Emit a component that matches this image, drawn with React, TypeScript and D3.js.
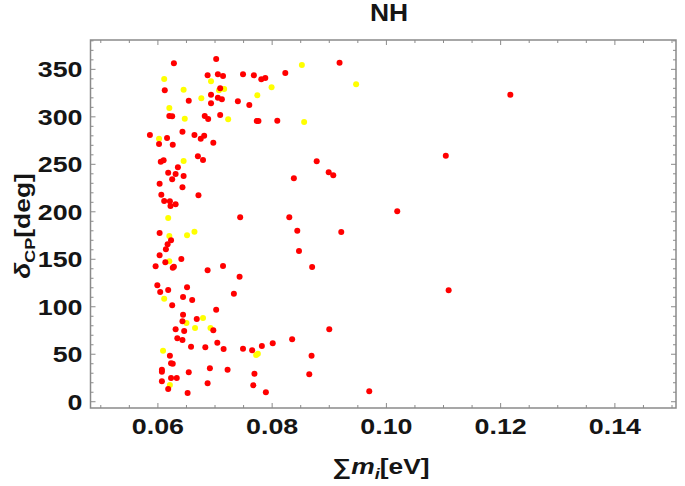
import React from "react";
import * as d3 from "d3";

const redX = [0.0628,0.0702,0.0687,0.0705,0.0714,0.0749,0.0768,0.0781,0.0788,0.0823,0.0612,0.0709,0.0693,0.0705,0.0712,0.0654,0.0693,0.0740,0.0760,0.0620,0.0625,0.0682,0.0688,0.0709,0.0773,0.0776,0.0809,0.0586,0.0643,0.0616,0.0664,0.0681,0.0675,0.0602,0.0626,0.0697,0.0670,0.0679,0.0605,0.0610,0.0918,0.0878,0.0838,0.0899,0.0907,0.1104,0.1019,0.0830,0.1217,0.0635,0.0618,0.0631,0.0645,0.0625,0.0603,0.0643,0.0606,0.0671,0.0611,0.0621,0.0622,0.0631,0.0744,0.0603,0.0623,0.0617,0.0614,0.0603,0.0641,0.0613,0.0596,0.0626,0.0628,0.0687,0.0714,0.0743,0.0599,0.0618,0.0651,0.0604,0.0644,0.0660,0.0733,0.0625,0.0702,0.0644,0.0643,0.0668,0.0631,0.0646,0.0697,0.0634,0.0643,0.0658,0.0683,0.0704,0.0715,0.0749,0.0765,0.0782,0.0801,0.0621,0.0623,0.0626,0.0607,0.0607,0.0654,0.0691,0.0722,0.0769,0.0623,0.0633,0.0607,0.0687,0.0767,0.0618,0.0652,0.0789,0.0844,0.0921,0.0847,0.0870,0.1109,0.0900,0.0835,0.0869,0.0865,0.0970];
const redY = [356.3,360.9,343.7,344.8,343.0,344.8,343.7,339.5,340.9,346.1,327.9,330.0,323.3,320.1,318.4,317.0,314.2,316.3,312.4,300.8,300.5,300.8,297.7,301.9,295.6,295.6,295.9,280.8,284.3,277.7,280.8,280.1,276.9,271.4,270.6,272.7,258.4,254.5,252.7,254.2,357.0,253.1,235.2,241.6,238.4,259.0,200.5,194.2,323.3,246.8,241.1,239.8,237.7,234.2,229.6,225.8,218.0,217.3,211.3,211.0,206.1,207.9,194.2,177.6,170.0,165.7,160.5,154.2,150.3,146.8,142.6,141.1,142.2,138.4,142.9,131.6,122.6,117.6,120.5,115.5,110.2,107.1,113.7,101.5,96.9,91.6,84.7,87.1,76.2,74.4,75.2,66.8,65.0,57.9,57.3,62.1,55.5,55.8,54.1,58.7,61.5,48.4,40.4,40.0,33.7,31.6,31.0,35.2,33.7,29.5,25.0,25.0,21.5,19.4,17.3,13.4,9.2,9.9,180.1,178.7,158.7,141.8,117.3,76.2,65.7,48.4,28.9,11.0];

const yellowX = [0.0611,0.0693,0.0645,0.0707,0.0716,0.0676,0.0799,0.0774,0.0620,0.0647,0.0723,0.0602,0.0645,0.0852,0.0947,0.0856,0.0618,0.0620,0.0651,0.0664,0.0620,0.0611,0.0650,0.0679,0.0665,0.0692,0.0609,0.0772,0.0775,0.0621];
const yellowY = [339.8,337.4,328.5,327.9,329.3,319.5,331.1,322.6,309.3,298.0,297.4,276.9,253.5,354.5,334.2,294.5,193.4,174.5,175.2,179.0,147.8,108.5,82.9,88.1,77.6,77.6,53.7,49.2,50.5,17.6];

const xTickLabels = [0.06, 0.08, 0.1, 0.12, 0.14];
const yTickLabels = [0, 50, 100, 150, 200, 250, 300, 350];
const title = "NH";

const W = 685;
const H = 486;
const L = 90.5, R = 676, T = 40, B = 408;
const FONT = "'Liberation Sans', Arial, sans-serif";
const TXT = "#151515";
const FRAME = "#8a8a8a";

export default function App() {
  const x = d3.scaleLinear().domain([0.0482, 0.1507]).range([L, R]);
  const y = d3.scaleLinear().domain([-6.6, 380.9]).range([B, T]);

  const xMinor = d3.range(0.05, 0.1501, 0.005).map((v) => +v.toFixed(3));
  const yMinor = d3.range(0, 381, 10);

  const red = redX.map((v, i) => [v, redY[i]]);
  const yellow = yellowX.map((v, i) => [v, yellowY[i]]);

  const isMajorX = (v: number) => xTickLabels.some((t) => Math.abs(t - v) < 1e-6);
  const isMajorY = (v: number) => v % 50 === 0;

  return (
    <svg width={W} height={H} style={{ position: "absolute", left: 0, top: 0, background: "#fff" }}>
      <rect x={0} y={0} width={W} height={H} fill="#fff" />
      <g stroke={FRAME} strokeWidth={1}>
        {xMinor.map((v) => {
          const len = isMajorX(v) ? 5 : 3;
          return (
            <g key={"xt" + v}>
              <line x1={x(v)} x2={x(v)} y1={B} y2={B - len} />
              <line x1={x(v)} x2={x(v)} y1={T} y2={T + len} />
            </g>
          );
        })}
        {yMinor.map((v) => {
          const len = isMajorY(v) ? 5 : 3;
          return (
            <g key={"yt" + v}>
              <line x1={L} x2={L + len} y1={y(v)} y2={y(v)} />
              <line x1={R} x2={R - len} y1={y(v)} y2={y(v)} />
            </g>
          );
        })}
      </g>
      <g>
        {yellow.map((d, i) => (
          <circle key={"y" + i} cx={x(d[0])} cy={y(d[1])} r={3} fill="#FFFF00" />
        ))}
        {red.map((d, i) => (
          <circle key={"r" + i} cx={x(d[0])} cy={y(d[1])} r={3} fill="#FF0000" />
        ))}
      </g>
      <rect x={L} y={T} width={R - L} height={B - T} fill="none" stroke={FRAME} strokeWidth={1.5} />
      <g fill={TXT} fontFamily={FONT} fontWeight="bold" fontSize={22}>
        {xTickLabels.map((v) => (
          <text key={"xl" + v} transform={`translate(${x(v)},${B + 26}) scale(1.22,1)`} textAnchor="middle">
            {d3.format(".2f")(v)}
          </text>
        ))}
        {yTickLabels.map((v) => (
          <text key={"yl" + v} transform={`translate(${L - 8},${y(v) + 8}) scale(1.22,1)`} textAnchor="end">
            {v}
          </text>
        ))}
      </g>
      <text transform={`translate(389,21) scale(1.15,1)`} textAnchor="middle" fill={TXT} fontFamily={FONT} fontWeight="bold" fontSize={23}>
        {title}
      </text>
      <text transform={`translate(381,474) scale(1.2,1)`} textAnchor="middle" fill={TXT} fontFamily={FONT} fontWeight="bold" fontSize={22}>
        <tspan>∑</tspan>
        <tspan fontStyle="italic">m</tspan>
        <tspan fontStyle="italic" fontSize={15} dy={5}>i</tspan>
        <tspan dy={-5}>[eV]</tspan>
      </text>
      <text transform={`translate(30,226) rotate(-90) scale(1.2,1)`} textAnchor="middle" fill={TXT} fontFamily={FONT} fontWeight="bold" fontSize={22}>
        <tspan fontStyle="italic">δ</tspan>
        <tspan fontSize={15} dy={5}>CP</tspan>
        <tspan dy={-5}>[deg]</tspan>
      </text>
    </svg>
  );
}
